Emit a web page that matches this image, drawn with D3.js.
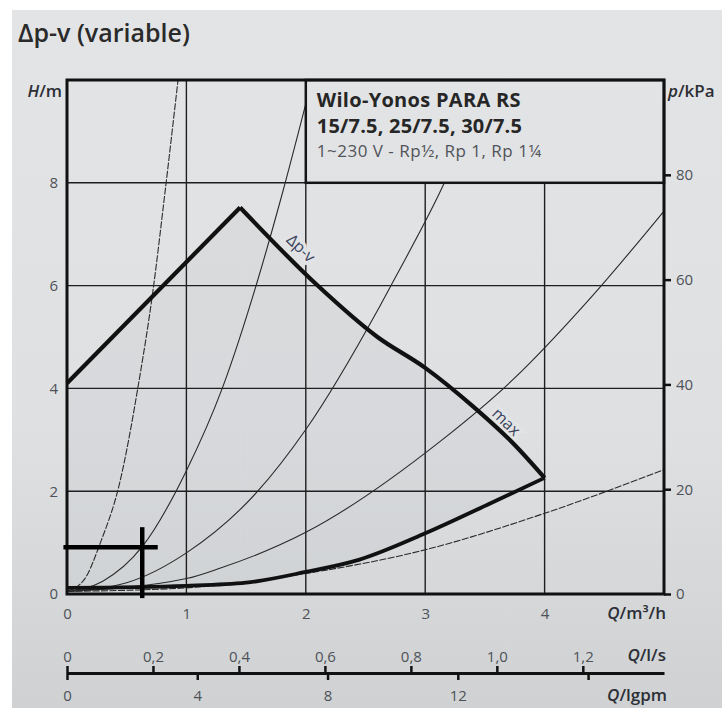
<!DOCTYPE html>
<html>
<head>
<meta charset="utf-8">
<script src="https://cdn.jsdelivr.net/npm/d3@7"></script>
<style>
html, body { margin: 0; padding: 0; background: #fff; }
svg text { font-family: 'Open Sans', 'Noto Sans', sans-serif; }
</style>
</head>
<body>
<div id="chart"></div>
<script>
'use strict';

// Q in m³/h, H in m
var qTicks = [0, 1, 2, 3, 4];
var hTicks = [0, 2, 4, 6, 8];
var pTicks = [0, 20, 40, 60, 80];
var lsTicks = [0, 0.2, 0.4, 0.6, 0.8, 1.0, 1.2];
var lsLabels = ['0', '0,2', '0,4', '0,6', '0,8', '1,0', '1,2'];
var gpmTicks = [0, 4, 8, 12, 16];
var gpmLabels = ['0', '4', '8', '12', ''];

// pump curves
var dpvLine = [[0, 4.1], [1.45, 7.52]];
var maxCurve = [[1.45, 7.52], [2.09, 6.02], [2.6, 5.0], [3.0, 4.4], [3.4, 3.65], [3.75, 2.9], [4.0, 2.26]];
var minCurve = [[0, 0.12], [1.0, 0.16], [1.5, 0.22], [2.0, 0.43], [2.45, 0.67], [3.0, 1.18], [3.57, 1.79], [4.0, 2.26]];

// system curves
var sys1 = [[0, 0.05], [0.15, 0.3], [0.28, 1.0], [0.44, 2.15], [0.6, 4.1], [0.72, 5.9], [0.82, 7.8], [0.93, 10.0]];
var sys2 = [[0, 0.05], [0.3, 0.25], [0.63, 0.92], [1.0, 2.4], [1.3, 4.0], [1.59, 6.05], [1.81, 7.85], [2.04, 9.9]];
var sys3 = [[0, 0.05], [0.5, 0.22], [1.0, 0.8], [1.59, 1.98], [2.0, 3.2], [2.62, 5.6], [2.76, 6.2], [3.12, 7.8], [3.5, 9.8]];
var sys4 = [[0, 0.05], [1.0, 0.3], [1.28, 0.5], [2.0, 1.2], [3.12, 2.96], [3.73, 4.16], [4.4, 5.8], [5.0, 7.45]];
var sys5 = [[0, 0.05], [1.0, 0.12], [2.0, 0.4], [3.0, 0.86], [4.0, 1.57], [5.0, 2.42]];
var systemCurves = [sys1, sys2, sys3, sys4, sys5];

// duty point crosshair
var dutyQ = [-0.03, 0.63, 0.76];
var dutyH = [-0.08, 0.91, 1.3];

var curveLabels = [
    { text: 'Δp-v', q: 1.96, h: 6.73 },
    { text: 'max', q: 3.68, h: 3.35 }
];

var svg = d3.select('#chart')
    .append('svg')
    .attr('width', 722)
    .attr('height', 708);

var x = d3.scaleLinear().domain([0, 5]).range([67, 664]);
var y = d3.scaleLinear().domain([0, 10]).range([594, 80]);
var yP = d3.scaleLinear().domain([0, 98.1]).range([594, 80]);
var xLs = d3.scaleLinear().domain([0, 5 / 3.6]).range([67, 664]);
var xGpm = d3.scaleLinear().domain([0, 5 * 3.6662]).range([67, 664]);

var defs = svg.append('defs');
var grad = defs.append('linearGradient')
    .attr('id', 'bg')
    .attr('gradientUnits', 'userSpaceOnUse')
    .attr('x1', 0).attr('y1', 10).attr('x2', 0).attr('y2', 708);
grad.append('stop').attr('offset', 0).attr('stop-color', '#e3e4e5');
grad.append('stop').attr('offset', 0.6).attr('stop-color', '#dfe0e2');
grad.append('stop').attr('offset', 1).attr('stop-color', '#cfd1d3');

defs.append('clipPath').attr('id', 'plot')
    .append('rect')
    .attr('x', x(0)).attr('y', y(10))
    .attr('width', x(5) - x(0)).attr('height', y(0) - y(10));

// background
svg.append('rect').attr('x', 12).attr('y', 10).attr('width', 710).attr('height', 698).attr('fill', 'url(#bg)');

svg.append('text')
    .attr('x', 18).attr('y', 42)
    .style('font-size', '25px').style('font-weight', 600)
    .attr('fill', '#2a2a2a')
    .text('Δp-v (variable)');

var lineLin = d3.line().x(function(d) { return x(d[0]); }).y(function(d) { return y(d[1]); });
var lineSmooth = d3.line().x(function(d) { return x(d[0]); }).y(function(d) { return y(d[1]); }).curve(d3.curveMonotoneX);
var areaLin = d3.area().x(function(d) { return x(d[0]); }).y0(y(0)).y1(function(d) { return y(d[1]); });
var areaSmooth = d3.area().x(function(d) { return x(d[0]); }).y0(y(0) + 5).y1(function(d) { return y(d[1]); }).curve(d3.curveMonotoneX);

// shaded operating range
var mask = defs.append('mask').attr('id', 'range');
mask.append('path').attr('d', areaLin(dpvLine)).attr('fill', '#fff');
mask.append('path').attr('d', areaSmooth(maxCurve)).attr('fill', '#fff');
mask.append('path').attr('d', areaSmooth(minCurve)).attr('fill', '#000');
svg.append('rect')
    .attr('x', x(0)).attr('y', y(10))
    .attr('width', x(5) - x(0)).attr('height', y(0) - y(10))
    .attr('fill', '#bfc3c8').attr('opacity', 0.22)
    .attr('mask', 'url(#range)');

// grid
svg.append('g').selectAll('line')
    .data(qTicks.slice(1))
    .enter().append('line')
    .attr('x1', function(d) { return x(d); })
    .attr('x2', function(d) { return x(d); })
    .attr('y1', y(0)).attr('y2', y(10))
    .attr('stroke', '#1e1e1e').attr('stroke-width', 1.4);
svg.append('g').selectAll('line')
    .data(hTicks.slice(1))
    .enter().append('line')
    .attr('y1', function(d) { return y(d); })
    .attr('y2', function(d) { return y(d); })
    .attr('x1', x(0)).attr('x2', x(5))
    .attr('stroke', '#1e1e1e').attr('stroke-width', 1.4);

// system curves
svg.append('g').attr('clip-path', 'url(#plot)')
    .selectAll('path')
    .data(systemCurves)
    .enter().append('path')
    .attr('d', lineSmooth)
    .attr('fill', 'none')
    .attr('stroke', '#2a2a2a')
    .attr('stroke-width', 1.1)
    .attr('stroke-dasharray', function(d, i) { return (i === 0 || i === 4) ? '7,1.5' : null; });

// curve labels with knock-out
svg.append('g').selectAll('text')
    .data(curveLabels)
    .enter().append('text')
    .attr('transform', function(d) { return 'translate(' + x(d.q) + ',' + y(d.h) + ') rotate(44)'; })
    .attr('text-anchor', 'middle')
    .attr('dy', '0.35em')
    .style('font-size', '16px')
    .style('paint-order', 'stroke')
    .attr('stroke', '#e2e3e4').attr('stroke-width', 7)
    .attr('fill', '#3c4460')
    .text(function(d) { return d.text; });

// title box
svg.append('rect')
    .attr('x', x(2)).attr('y', y(10))
    .attr('width', x(5) - x(2)).attr('height', y(8) - y(10))
    .attr('fill', 'url(#bg)')
    .attr('stroke', '#151515').attr('stroke-width', 2.5);
var boxText = svg.append('g').attr('transform', 'translate(' + (x(2) + 11) + ',0)');
boxText.append('text').attr('y', 107).style('font-size', '20px').style('font-weight', 700)
    .style('letter-spacing', '0.3px').attr('fill', '#262626').text('Wilo-Yonos PARA RS');
boxText.append('text').attr('y', 133).style('font-size', '20px').style('font-weight', 700)
    .style('letter-spacing', '0.2px').attr('fill', '#262626').text('15/7.5, 25/7.5, 30/7.5');
boxText.append('text').attr('y', 157).style('font-size', '17px')
    .style('letter-spacing', '0.5px').attr('fill', '#50545a').text('1~230 V - Rp½, Rp 1, Rp 1¼');

// pump curves
svg.append('path').attr('d', lineLin(dpvLine))
    .attr('fill', 'none').attr('stroke', '#111').attr('stroke-width', 4.2);
svg.append('path').attr('d', lineSmooth(maxCurve))
    .attr('fill', 'none').attr('stroke', '#111').attr('stroke-width', 4.2).attr('stroke-linejoin', 'round');
svg.append('path').attr('d', lineSmooth(minCurve))
    .attr('fill', 'none').attr('stroke', '#111').attr('stroke-width', 3.8);

// frame
svg.append('rect')
    .attr('x', x(0)).attr('y', y(10))
    .attr('width', x(5) - x(0)).attr('height', y(0) - y(10))
    .attr('fill', 'none').attr('stroke', '#111').attr('stroke-width', 3);

// duty point
svg.append('line')
    .attr('x1', x(dutyQ[0])).attr('x2', x(dutyQ[2]))
    .attr('y1', y(dutyH[1])).attr('y2', y(dutyH[1]))
    .attr('stroke', '#000').attr('stroke-width', 4.5);
svg.append('line')
    .attr('x1', x(dutyQ[1])).attr('x2', x(dutyQ[1]))
    .attr('y1', y(dutyH[0])).attr('y2', y(dutyH[2]))
    .attr('stroke', '#000').attr('stroke-width', 4.5);

// axes
function styleAxis(g) {
    g.selectAll('text').style('font-size', '15px').attr('fill', '#4e5258');
    g.selectAll('.tick line').attr('stroke', '#111').attr('stroke-width', 2.5);
}

svg.append('g')
    .attr('transform', 'translate(' + x(0) + ',0)')
    .call(d3.axisLeft(y).tickValues(hTicks).tickSize(0).tickPadding(9).tickFormat(d3.format('d')))
    .call(function(g) { g.select('.domain').remove(); })
    .call(styleAxis);

svg.append('g')
    .attr('transform', 'translate(' + x(5) + ',0)')
    .call(d3.axisRight(yP).tickValues(pTicks).tickSize(7).tickPadding(5).tickFormat(d3.format('d')))
    .call(function(g) { g.select('.domain').remove(); })
    .call(styleAxis);

svg.append('g')
    .attr('transform', 'translate(0,' + y(0) + ')')
    .call(d3.axisBottom(x).tickValues(qTicks).tickSize(0).tickPadding(14).tickFormat(d3.format('d')))
    .call(function(g) { g.select('.domain').remove(); })
    .call(styleAxis);

svg.append('g')
    .attr('transform', 'translate(0,673)')
    .call(d3.axisTop(xLs).tickValues(lsTicks).tickSize(7).tickSizeOuter(0).tickPadding(4)
        .tickFormat(function(d, i) { return lsLabels[i]; }))
    .call(function(g) { g.select('.domain').attr('stroke', '#111').attr('stroke-width', 3); })
    .call(styleAxis);

svg.append('g')
    .attr('transform', 'translate(0,673)')
    .call(d3.axisBottom(xGpm).tickValues(gpmTicks).tickSize(7).tickPadding(10)
        .tickFormat(function(d, i) { return gpmLabels[i]; }))
    .call(function(g) { g.select('.domain').remove(); })
    .call(styleAxis);

// axis titles
function unitLabel(px, py, anchor, sym, unit) {
    var t = svg.append('text')
        .attr('x', px).attr('y', py)
        .attr('text-anchor', anchor)
        .style('font-size', '17px').style('font-weight', 600)
        .attr('fill', '#2c2f36');
    t.append('tspan').style('font-style', 'italic').text(sym);
    t.append('tspan').text(unit);
}
unitLabel(62, 97, 'end', 'H', '/m');
unitLabel(668, 97, 'start', 'p', '/kPa');
unitLabel(666, 619, 'end', 'Q', '/m³/h');
unitLabel(666, 661, 'end', 'Q', '/l/s');
unitLabel(667, 701, 'end', 'Q', '/lgpm');
</script>
</body>
</html>
